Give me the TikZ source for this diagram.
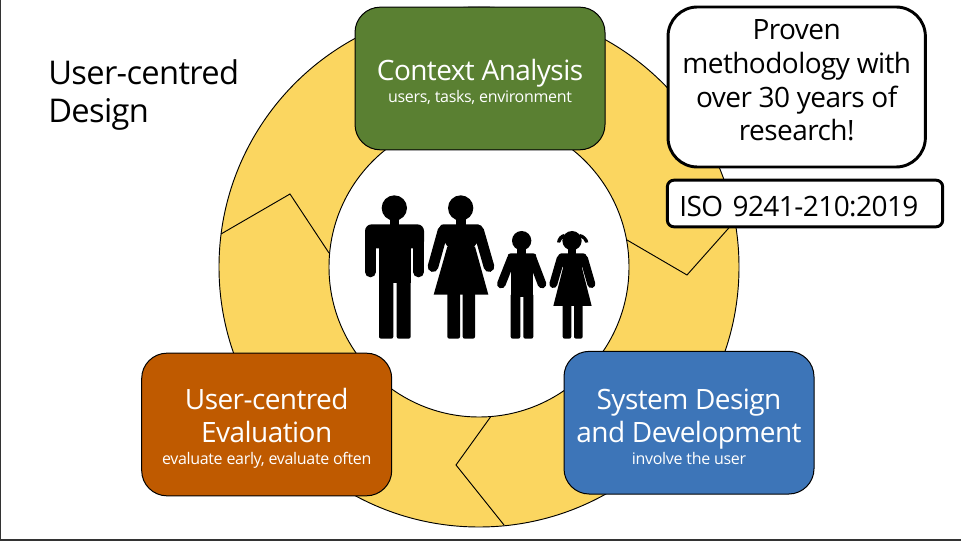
\documentclass[tikz,border=0pt]{standalone}
\usepackage{fontspec}
\setmainfont[LetterSpace=-2.0]{Open Sans}
\usepackage{tikz}
\definecolor{ringyellow}{HTML}{FBD660}
\definecolor{boxgreen}{HTML}{5A8032}
\definecolor{boxorange}{HTML}{BF5A00}
\definecolor{boxblue}{HTML}{3D75B8}
\definecolor{framegray}{HTML}{333333}
\newcommand{\subline}[1]{{\fontsize{12}{15}\selectfont #1}}
\newcommand{\headstrut}{\rule{0pt}{21.5pt}}

\begin{document}
\begin{tikzpicture}[
        x=0.75pt, y=-0.75pt,
        every node/.style={align=center, anchor=center},
        ring/.style={draw=black, line width=0.7pt, fill=ringyellow, even odd rule},
        seam/.style={draw=black, line width=0.7pt, line join=miter},
        stage/.style={rectangle, draw=black, line width=0.75pt, text=white,
                      minimum width=187.5pt, minimum height=107pt, inner sep=0pt,
                      rounded corners=19pt, font=\fontsize{21}{25.2}\selectfont},
        note/.style={rectangle, draw=black, line width=2.2pt, fill=white, text=black,
                     inner sep=0pt, font=\fontsize{21}{25.2}\selectfont},
        heading/.style={anchor=north west, align=left, text=black, inner sep=0pt,
                        font=\fontsize{24.5}{28.5}\selectfont},
        limb/.style={draw=black, line cap=round},
        person/.style={fill=black, rounded corners=1.5pt}
    ]
        \useasboundingbox (0,0) rectangle (961,541);

        \fill[ring] (479,267) circle (260) (479,267) circle (150);

        \draw[seam] (221,234) -- (290,194) -- (329,253);
        \draw[seam] (627,240) -- (687,275) -- (735,221);
        \draw[seam] (490.5,417) -- (456,465) -- (504,525);

        \begin{scope}[shift={(340,180)}, x=0.25pt, y=-0.25pt]
            \fill (163,84) circle (38);
            \fill (150,110) rectangle (178,140);
            \fill[rounded corners=5pt] (75,133) rectangle (252,205);
            \draw[limb, line width=8pt] (91,160) -- (91,276);
            \draw[limb, line width=8pt] (236,160) -- (236,276);
            \fill (117,190) rectangle (212,310);
            \fill[person] (117,295) rectangle (160,476);
            \fill[person] (170,295) rectangle (212,476);

            \fill (362,84) circle (38);
            \fill (348,110) rectangle (378,140);
            \fill[rounded corners=4pt] (295,133) -- (430,133) -- (405,205) -- (322,205) -- cycle;
            \draw[limb, line width=8pt] (309,152) -- (279,260);
            \draw[limb, line width=8pt] (416,152) -- (447,260);
            \fill (322,200) -- (405,200) -- (445,344) -- (281,344) -- cycle;
            \fill[person] (322,335) rectangle (360,476);
            \fill[person] (368,335) rectangle (405,476);

            \fill (545,182) circle (29);
            \fill (532,200) rectangle (558,225);
            \fill[rounded corners=3pt] (500,220) -- (592,220) -- (580,265) -- (512,265) -- cycle;
            \draw[limb, line width=6.5pt] (514,236) -- (484,312);
            \draw[limb, line width=6.5pt] (577,236) -- (606,312);
            \fill (512,255) rectangle (580,350);
            \fill[person] (512,340) rectangle (541,476);
            \fill[person] (550,340) rectangle (580,476);

            \fill (696,182) circle (29);
            \fill (684,200) rectangle (708,225);
            \fill[rounded corners=3pt] (652,220) -- (742,220) -- (725,270) -- (670,270) -- cycle;
            \draw[limb, line width=6pt] (662,236) -- (640,312);
            \draw[limb, line width=6pt] (732,236) -- (754,312);
            \fill (670,260) -- (725,260) -- (755,378) -- (640,378) -- cycle;
            \fill[person] (668,370) rectangle (694,476);
            \fill[person] (702,370) rectangle (728,476);
            \fill (672,162) .. controls (660,164) and (652,176) .. (651,187)
                -- (660,188) .. controls (662,180) and (668,174) .. (676,172) -- cycle;
            \fill (720,162) .. controls (732,164) and (744,176) .. (745,187)
                -- (736,188) .. controls (734,180) and (728,174) .. (716,172) -- cycle;
        \end{scope}

        \node[stage, fill=boxgreen] (context) at (480,78.5)
            {\headstrut Context Analysis\\[-9pt]\subline{users, tasks, environment}};
        \node[stage, fill=boxorange] (evaluation) at (266.7,424.5)
            {\headstrut User-centred\\Evaluation\\[-9pt]\subline{evaluate early, evaluate often}};
        \node[stage, fill=boxblue] (development) at (689,422.7)
            {\headstrut System Design\\and Development\\[-9pt]\subline{involve the user}};

        \node[note, minimum width=193pt, minimum height=120pt, rounded corners=22pt] (proven) at (796.7,87)
            {Proven\\methodology with\\over 30 years of\\research!\rule[-10pt]{0pt}{10pt}};
        \node[note, minimum width=206.5pt, minimum height=35pt, rounded corners=5pt, text width=206.5pt] (iso) at (805,203.5)
            {\hspace*{9pt}\rule{0pt}{20pt}ISO 9241-210:2019\hfill\null};

        \node[heading] (title) at (48,59) {User-centred\\Design};

        \draw[framegray, line width=1pt] (0.5,0) -- (0.5,540);
        \draw[framegray, line width=1.5pt] (0,540) -- (961,540);
    \end{tikzpicture}
\end{document}
